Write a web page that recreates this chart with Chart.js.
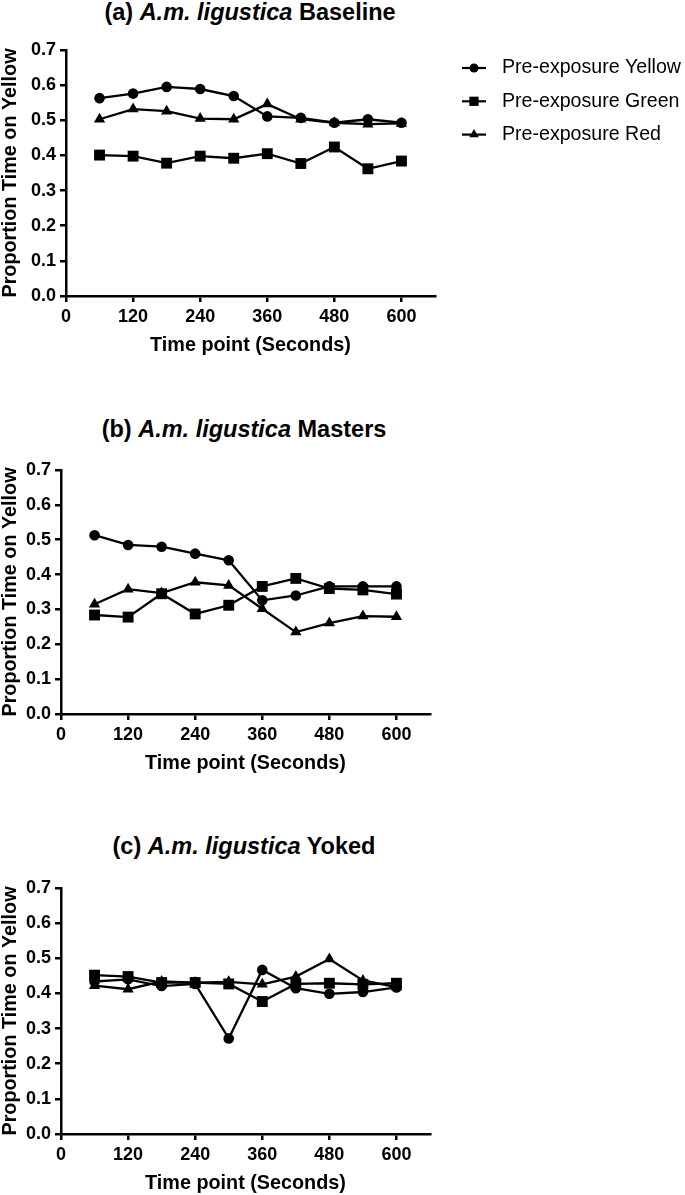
<!DOCTYPE html>
<html><head><meta charset="utf-8">
<script src="https://cdn.jsdelivr.net/npm/chart.js@4/dist/chart.umd.min.js"></script>
<style>
html,body{margin:0;padding:0;background:#fff;width:685px;height:1195px;overflow:hidden;position:relative;font-family:"Liberation Sans",Arial,sans-serif;}
canvas{position:absolute;left:0;}
.ttl{position:absolute;font-weight:bold;font-size:23.5px;white-space:nowrap;transform:translate(-50%,-50%);color:#000;line-height:1;}
</style></head><body>
<div class="ttl" style="left:250px;top:13px">(a) <i>A.m. ligustica</i> Baseline</div>
<div class="ttl" style="left:244px;top:430px">(b) <i>A.m. ligustica</i> Masters</div>
<div class="ttl" style="left:244px;top:847px">(c) <i>A.m. ligustica</i> Yoked</div>
<canvas id="ca" width="685" height="357" style="top:0px;width:685px;height:357px"></canvas>
<canvas id="cb" width="440" height="375" style="top:400px;width:440px;height:375px"></canvas>
<canvas id="cc" width="440" height="375" style="top:820px;width:440px;height:375px"></canvas>
<script>
const timePoints = [60,120,180,240,300,360,420,480,540,600];
const xTicks = [0,120,240,360,480,600];
const yTicks = [0,0.1,0.2,0.3,0.4,0.5,0.6,0.7];
const seriesLabels = ['Pre-exposure Yellow','Pre-exposure Green','Pre-exposure Red'];

const baselineYellow = [0.563,0.576,0.595,0.589,0.569,0.511,0.507,0.493,0.503,0.493];
const baselineGreen  = [0.401,0.398,0.378,0.398,0.392,0.405,0.377,0.424,0.362,0.384];
const baselineRed    = [0.503,0.532,0.526,0.505,0.503,0.546,0.503,0.493,0.489,0.491];

const mastersYellow = [0.513,0.485,0.480,0.460,0.441,0.326,0.340,0.366,0.366,0.366];
const mastersGreen  = [0.284,0.278,0.345,0.287,0.312,0.366,0.389,0.360,0.356,0.344];
const mastersRed    = [0.315,0.358,0.347,0.378,0.369,0.302,0.235,0.261,0.281,0.279];

const yokedYellow = [0.434,0.440,0.421,0.427,0.272,0.467,0.415,0.399,0.404,0.417];
const yokedGreen  = [0.452,0.448,0.431,0.431,0.427,0.377,0.427,0.429,0.426,0.429];
const yokedRed    = [0.422,0.412,0.434,0.431,0.433,0.426,0.448,0.498,0.437,0.418];

const FAM = '"Liberation Sans", Arial, sans-serif';
const styles = [
  {pointStyle:'circle', pointRadius:5.3},
  {pointStyle:'rect', pointRadius:7.7},
  {pointStyle:'triangle', pointRadius:6.5}
];

const legendPlugin = {
  id:'sideLegend',
  afterDraw(chart){
    const ctx = chart.ctx;
    chart.data.datasets.forEach((ds,i)=>{
      const y = 68 + i*33.3;
      ctx.save();
      ctx.strokeStyle='#000'; ctx.fillStyle='#000'; ctx.lineWidth=2.2;
      ctx.beginPath(); ctx.moveTo(462,y); ctx.lineTo(486,y); ctx.stroke();
      Chart.helpers.drawPoint(ctx,{pointStyle:ds.pointStyle, radius:ds.pointRadius*0.85, rotation:0, borderWidth:0}, 474, y);
      ctx.font='19.6px ' + FAM; ctx.textBaseline='middle'; ctx.textAlign='left';
      ctx.fillText(ds.label, 502, y);
      ctx.restore();
    });
  }
};

function makeChart(id, series, g, withLegend){
  const datasets = series.map((vals,i)=>({
    label: seriesLabels[i],
    data: timePoints.map((t,j)=>({x:t, y:vals[j]})),
    borderColor:'#000', backgroundColor:'#000', borderWidth:2.3,
    pointStyle: styles[i].pointStyle, pointRadius: styles[i].pointRadius,
    pointBorderWidth:0, pointBackgroundColor:'#000', tension:0, fill:false
  }));
  const axisCommon = {
    border:{display:true,color:'#000',width:2.5},
    grid:{drawOnChartArea:false, drawTicks:true, tickLength:6, color:'#000', lineWidth:2.5}
  };
  return new Chart(document.getElementById(id), {
    type:'line',
    data:{datasets},
    plugins: withLegend ? [legendPlugin] : [],
    options:{
      responsive:false, animation:false, events:[],
      layout:{padding:{top:g.top, right:g.right, left:0, bottom:0}},
      plugins:{legend:{display:false}, title:{display:false}, tooltip:{enabled:false}},
      scales:{
        x:Object.assign({
          type:'linear', min:0, max:660,
          afterBuildTicks: s => { s.ticks = xTicks.map(v=>({value:v})); },
          afterFit: s => { s.height = g.xh; },
          ticks:{color:'#000', font:{family:FAM,size:18,weight:'bold'}, padding:4, maxRotation:0, autoSkip:false},
          title:{display:true, text:'Time point (Seconds)', color:'#000', font:{family:FAM,size:19.8,weight:'bold',lineHeight:1}, padding:{top:0,bottom:2}}
        }, axisCommon),
        y:Object.assign({
          type:'linear', min:0, max:0.7,
          afterBuildTicks: s => { s.ticks = yTicks.map(v=>({value:v})); },
          afterFit: s => { s.width = g.left; },
          ticks:{color:'#000', font:{family:FAM,size:18,weight:'bold'}, padding:4, callback:v=>v.toFixed(1)},
          title:{display:true, text:'Proportion Time on Yellow', color:'#000', font:{family:FAM,size:19.8,weight:'bold',lineHeight:1}, padding:{top:1,bottom:0}}
        }, axisCommon)
      }
    }
  });
}

makeChart('ca', [baselineYellow, baselineGreen, baselineRed], {top:50, right:250, left:66, xh:61}, true);
makeChart('cb', [mastersYellow, mastersGreen, mastersRed], {top:70, right:10, left:61, xh:61}, false);
makeChart('cc', [yokedYellow, yokedGreen, yokedRed], {top:68, right:10, left:61, xh:61}, false);
</script>
</body></html>
